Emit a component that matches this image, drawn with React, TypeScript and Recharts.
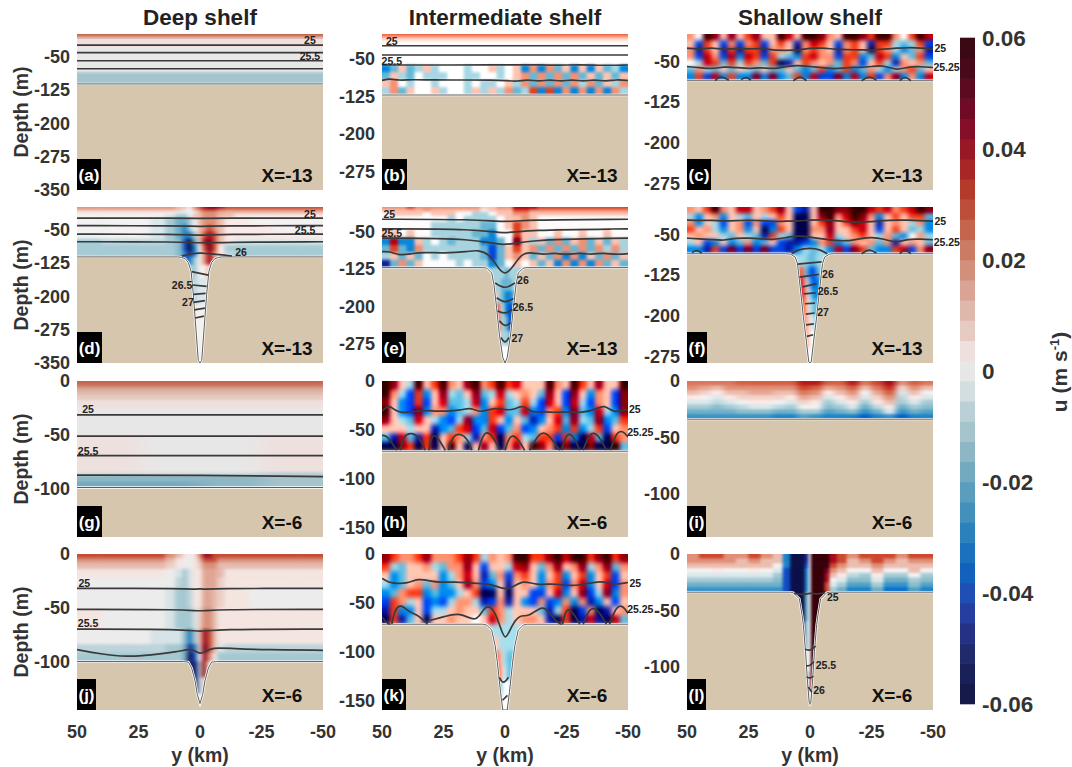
import React from 'react';
import { ComposedChart, ScatterChart, Scatter, Area, Line, XAxis, YAxis, ReferenceDot } from 'recharts';

// u in units of 0.01 m/s. Rows go top to bottom, columns y=50 to y=-50.
const palette = [
  '#161a4a', '#1a2158', '#212a6c', '#243184', '#263ea0', '#1f4fb4', '#1261bc', '#1a72bf', '#2b81bc', '#4390ba', '#5b9dbc',
  '#74aabf', '#8db7c4', '#a5c4cc', '#bbd0d6', '#d3dee1', '#e8e7e7', '#eee0dd', '#e6cbc3', '#dfb8ac', '#d9a494', '#d2907c',
  '#cb7a64', '#c4654d', '#bd4f3a', '#b53a2c', '#a92626', '#981826', '#850f28', '#700b26', '#5b0a20', '#480a1a', '#3a0914',
];

const xs30 = Array.from({ length: 31 }, (_, i) => 50 - (i * 100) / 30);
const xs20 = [50, 45, 40, 35, 30, 25, 20, 15, 10, 5, 0, -5, -10, -15, -20, -25, -30, -35, -40, -45, -50];
const xsCanyon = [50, 40, 30, 20, 14, 10, 7, 5, 3, 1, -1, -3, -5, -7, -10, -14, -20, -30, -40, -50];
const xsNarrow = [6, 4, 2.5, 1, 0, -1, -2.5, -4, -6];

// (a)
const aZs = [0, -4, -8, -12, -18, -30, -85, -90, -112];
const aVals = [[2.6], [1.9], [1.1], [0.5], [0.2], [0], [-0.6], [-1.1]];
const aSeabed = [[50, -112], [-50, -112]];
const aContours = [
  [[50, -25], [-50, -25]],
  [[50, -42], [-50, -42]],
  [[50, -60], [-50, -60]],
  [[50, -78], [-50, -78]],
];
const aLabels = [[-44.7, -13, '25'], [-44.7, -51, '25.5']];

// (b)
const bTopZs = [0, -4, -9, -14, -20, -62];
const bTopVals = [[2.5], [1.6], [0.7], [0.2], [0]];
const bZs = [-62, -77, -92, -107, -122];
const bVals = [
  [-3, -2, 1, -2, -1, 1, -1, 0, 0, 0, -1, 0, 0, 1, -1, 0, 1, -3, 2, -3, 2, -2, 1, -3, 1, -3, 1, -2, -1, -3],
  [-2, 1, -1, -2, 0, -1, -1, -1, 0, 0, -1, -1, 0, 0, -1, 0, 1, 2, -2, 2, -2, 2, -2, 2, -2, 1, -2, 1, -2, 1],
  [1, 2, 0, -1, 0, 0, -1, 0, 0, 0, -1, 0, -1, -1, 0, 1, -1, 2, -2, 2, -2, 2, -2, 2, -1, 2, -2, 1, -1, 2],
  [-1, 2, -2, 1, 0, 0, 1, -1, 0, 0, -1, 1, -1, 1, -1, 2, -2, -1, 3, -3, 3, -3, 2, -3, 2, -3, 2, -3, 2, -1],
];
const bSeabed = [[50, -122], [-50, -122]];
const bContours = [
  [[50, -23.5], [-50, -23.5]],
  [[50, -42], [-50, -42]],
  [[50, -62], [0, -62], [-10, -61], [-20, -63], [-30, -61], [-40, -63], [-50, -62]],
  [[50, -93], [47, -89], [43, -93], [38, -91], [30, -92], [15, -92], [5, -92], [0, -93], [-5, -95], [-9, -91], [-14, -95], [-18, -91], [-23, -95], [-27, -91], [-32, -95], [-36, -91], [-41, -95], [-45, -91], [-50, -93]],
];
const bLabels = [[46, -14, '25'], [46, -54, '25.5']];

// (c)
const cZs = [0, -12, -24, -36, -48, -60, -72, -86];
const cVals = [
  [2, 0, 6, 5, 1, 5, 1, 3, 5, 1, 1, 6, 4, 1, 6, 6, 5, 2, 1, 6, 6, 5, 3, 6, 6, 2, 0, 3, 6, 4],
  [1, -4, 3, 1, -4, 2, -4, 2, 3, -4, 1, 3, 1, -5, 2, 4, 3, 1, -4, 2, 3, 1, -5, 3, 3, -1, -2, -1, 3, -4],
  [2, -5, 3, 1, -5, 3, -5, 3, 3, -5, 2, 2, 1, -6, 2, 3, 2, 1, -5, 2, 3, 1, -6, 3, 2, -1, -3, -2, 2, -5],
  [2, -4, 4, 2, -4, 4, -3, 4, 3, -4, 3, -1, -2, -3, 3, 4, 2, 2, -4, 3, 3, -3, -2, 4, 3, -3, 1, -2, 3, -4],
  [0, -1, 4, 3, -2, 3, -1, 3, 2, -2, 3, -6, -5, 1, 3, 2, 1, 2, -2, 3, 2, -4, 1, 3, -1, -5, 2, 1, 2, -2],
  [-2, 2, -1, -2, 1, -2, 1, -1, -2, 1, -2, -2, 1, -2, -3, -2, 3, -3, -2, 3, -3, -2, 2, -1, -3, -1, 2, 3, -2, 1],
  [-3, 3, -4, 4, -3, 3, -3, -3, 5, -3, 5, -3, -2, 3, -3, 4, -4, -4, 5, -3, 4, -3, 3, -4, 2, 5, -3, 2, -3, 4],
];
const cSeabed = [[50, -86], [-50, -86]];
const cContours = [
  [[50, -26], [45, -28], [40, -25], [35, -29], [30, -26], [25, -28], [20, -26], [15, -30], [10, -30], [5, -30], [0, -26], [-5, -25.5], [-10, -28], [-15, -29], [-20, -29], [-25, -30], [-30, -28], [-35, -26], [-40, -25], [-45, -25.5], [-50, -28]],
  [[50, -60], [45, -61.6], [40, -64.6], [35, -60], [30, -61.6], [25, -64], [20, -61.6], [15, -64.6], [10, -60], [5, -57], [0, -60], [-5, -61.6], [-10, -64.6], [-15, -61.6], [-20, -61.6], [-25, -60], [-30, -57], [-35, -67.6], [-40, -60], [-45, -60], [-50, -61.6]],
  [[38.5, -86], [37, -78], [35, -80], [33, -85]],
  [[28, -84], [26, -78], [24, -85]],
  [[6.8, -86], [4, -76], [1.4, -86]],
  [[-21, -86], [-24, -76], [-27, -85]],
  [[-36.5, -86], [-38.5, -77], [-41, -86]],
];
const cLabels = [[-53, -27, '25'], [-55.5, -62, '25.25']];

// (d)
const dZs = [0, -5, -10, -16, -24, -40, -56, -72, -85, -100, -112];
const dVals = [
  [2, 2, 2, 2, 2, 1, 1, 0, 2, 3, 4, 5, 5, 4, 3, 3, 3, 3, 3],
  [1, 1, 1, 1, 1, 1, 0, 0, 1, 2, 3, 3, 3, 2, 2, 2, 2, 2, 2],
  [0.5, 0.5, 0.5, 0.5, 0.5, 0, -0.5, 0, 0.5, 1, 2, 2, 2, 1.5, 1, 1, 1, 1, 1],
  [0, 0, 0, 0, -0.5, -1, -1, 0, 1, 1, 2, 2, 2, 1, 1, 0.5, 0.5, 0.5, 0.5],
  [0, 0, 0, -0.5, -1, -2, -2, -1, 0, 1, 2, 2, 2, 1, 0.5, 0.5, 0, 0, 0],
  [0, 0, 0, -0.3, -1, -2, -3, -1, 0, 1, 2, 3, 2, 1, 0.5, 0.3, 0.3, 0, 0],
  [0, 0, 0, -0.3, -1, -2, -3, -3, -1, 1, 3, 4, 3, 1, 0.5, 0.3, 0.3, 0.3, 0.3],
  [-1, -0.7, -0.7, -0.7, -1, -1.5, -4, -6, -2, 1, 4, 5, 3, 1, 0.3, -0.3, -0.3, -0.3, -0.3],
  [-1, -1, -1, -1, -1, -1.5, -4, -6, -3, 0, 3, 5, 3, 0.5, -1, -1, -1, -1, -1],
  [-1, -1, -1, -1, -1, -1.5, -3, -5, -3, 0, 2, 4, 2, 0.5, -0.8, -1, -1, -1, -1],
];
const dCanyonXs = [10, 7, 5, 3, 1, -1, -3, -5, -7, -10];
const dCanyonZs = [-112, -130, -160, -220, -350];
const dCanyonVals = [
  [-2, -4, -3, -1, 0, 2, 4, 2, 0],
  [-0.5, -1, -1, -1, 0, 0.5, 1, 0.5, 0],
  [-0.5, -0.7, -1, -0.7, -0.3, -0.5, -0.5, -0.5, 0],
  [0, 0, 0.3, 0.3, 0, 0, 0, 0, 0],
];
const dSeabed = [[50, -112], [9, -112], [7.5, -113], [6, -116], [4.7, -125], [3.6, -145], [2.7, -196], [2, -248], [0.7, -344], [0, -350], [-0.7, -344], [-2, -248], [-2.7, -196], [-3.6, -145], [-4.7, -125], [-6, -116], [-7.5, -113], [-9, -112], [-50, -112]];
const dContours = [
  [[50, -25], [8, -25], [0, -26], [-8, -25], [-50, -25]],
  [[50, -42], [8, -42], [0, -44], [-8, -42], [-50, -42]],
  [[50, -61], [8, -61], [0, -64], [-8, -61], [-50, -61]],
  [[50, -78], [8, -78], [0, -81], [-8, -79], [-50, -78]],
  [[7.4, -110], [3, -104], [0, -103], [-6.8, -106], [-13, -110]],
  [[3.4, -145], [-3.4, -153]],
  [[3, -175], [-2.7, -178]],
  [[2.7, -196], [-2.3, -194]],
  [[2.7, -214], [-2, -210]],
  [[2.3, -231], [-2, -227]],
  [[2, -249], [-1.6, -245]],
];
const dLabels = [[-44.7, -16, '25'], [-42.7, -53, '25.5'], [-16.7, -102, '26'], [7.3, -176, '26.5'], [4.9, -214, '27']];

// (e)
const eZs = [0, -5, -10, -18, -30, -46, -62, -77, -92, -107, -122];
const eVals = [
  [2, 2, 2, 3, 2, 2, 2, 2, 2, 2, 2, 2, 1, 1, 2, 2, 4, 4, 4, 3, 3, 3, 3, 3, 3, 3, 3, 3, 3, 3],
  [1, 1, 1, 1, 1, 2, 1, 1, 1, 1, 1, 1, 0, 1, 1, 1, 3, 3, 2, 2, 2, 2, 2, 2, 2, 2, 2, 2, 2, 2],
  [0, 1, 1, 1, 1, 0, 1, 1, 1, 0, 0, -1, -1, 0, 1, 1, 2, 2, 1, 1, 1, 1, 1, 1, 1, 1, 1, 1, 1, 1],
  [0, 0, 0, 0, 0, 0, 0, 0, -1, 0, -1, -1, -1, -1, 0, 1, 1, 2, 1, 0, 0, 0, 0, 0, 0, 0, 0, 0, 0, 0],
  [0, 0, 0, 0, 0, 0, -1, -1, -1, -1, -1, -1, -2, -2, 0, 1, 3, 2, 1, 0, 0, 0, 0, 0, 0, 0, 0, 0, 0, 0],
  [1, 1, 0, 1, 0, 0, -1, -1, -1, -1, -1, -2, -2, -3, 0, 0, 3, 1, 1, 0, 0, 1, 0, 0, 1, 0, 0, 1, 0, 0],
  [-3, 4, -3, -3, 1, -1, 0, -1, -2, -1, -1, -1, -3, -3, -2, 0, 5, 1, -1, 1, -2, 2, -2, 1, 2, -2, 1, -2, 1, -1],
  [-2, 3, -2, -3, 2, -1, -1, -1, -1, -1, -1, -1, -2, -4, -2, 1, 3, 1, 2, -2, 2, -2, 2, -2, 2, -2, 2, -1, 2, -1],
  [-1, 1, -2, 1, -2, 0, -1, 0, -1, -1, -1, -1, -2, -4, -2, 1, 2, 1, -2, 1, -2, 2, -3, 2, -3, 1, -2, 2, -2, 1],
  [-5, -2, 2, -2, 1, 0, 0, 0, 0, -1, 0, -1, -1, -3, -2, 0, 1, 0, 1, -2, 1, -3, 2, -3, 2, -3, 2, -2, 1, -2],
];
const eCanyonXs = [7, 4.5, 3, 1.5, 0, -1.5, -3, -4.5, -7];
const eCanyonZs = [-122, -145, -170, -195, -220, -250, -280, -314];
const eCanyonVals = [
  [-1, -1, -1, -1, -2, -1, -1, -1],
  [-1, -1, -1, -2, -2, -2, -1, -1],
  [1, 1, -1, -2, -3, -3, -2, -1],
  [3, 4, 2, -1, -3, -4, -3, -2],
  [2, 4, 2, -1, -2, -4, -4, -3],
  [1, 2, 1, -1, -1, -2, -3, -2],
  [0, 0, 0, 0, 0, 0, 0, 0],
];
const eSeabed = [[50, -122], [9, -122], [7.4, -123], [5.4, -133], [4.5, -156], [3.4, -203], [2.3, -256], [0.9, -303], [0, -314], [-0.9, -303], [-2.3, -256], [-3.4, -203], [-4.5, -156], [-5.4, -133], [-7.4, -123], [-9, -122], [-50, -122]];
const eContours = [
  [[50, -24.7], [12, -24.7], [0, -30.7], [-8, -26], [-50, -24.7]],
  [[50, -44], [12, -44], [0, -54.7], [-8, -46], [-50, -44]],
  [[50, -62.7], [12, -63], [0, -80.7], [-7, -66], [-50, -62.7]],
  [[50, -90], [47, -89], [43, -98], [38, -94], [33, -91], [25, -93], [15, -90], [11, -86], [6, -96], [3, -122], [0, -138], [-3, -122], [-7, -92], [-11, -92], [-16, -96], [-20, -92], [-25, -97], [-30, -92], [-35, -96], [-40, -92], [-45, -96], [-50, -94]],
  [[4, -152.7], [0, -166], [-4, -152.7]],
  [[3.4, -182.7], [0, -194], [-3.4, -184]],
  [[3, -209], [0, -216], [-3, -206]],
  [[2.3, -229], [0, -242], [-2.3, -232.7]],
  [[1.6, -262.7], [0, -276], [-1.6, -262.7]],
];
const eLabels = [[47, -14, '25'], [46, -52, '25.5'], [-7.3, -148, '26'], [-7.3, -202, '26.5'], [-5, -264, '27']];

// (f)
const fZs = [0, -12, -24, -36, -48, -60, -72, -86];
const fVals = [
  [2, 1, 3, 6, 2, 1, 4, 4, 1, 2, 3, 5, 1, -4, -5, 1, 6, 6, 5, 5, 6, 6, 4, 3, 4, 2, 3, 4, 6, 5],
  [-1, -3, 1, 2, -3, 1, -1, -2, 1, -1, 1, 3, 1, -6, -6, 1, 5, 6, 2, 4, 6, 5, 2, -3, 1, 3, 1, 3, 3, -2],
  [2, -3, 1, -1, -4, 1, 2, -4, 2, -4, -4, 2, 1, -6, -6, 1, 3, 5, 1, 3, 5, 4, 1, -5, 1, 2, 1, -1, 2, -3],
  [3, 1, 2, -1, -3, 1, 2, -3, 1, -6, -3, 3, 1, -6, -6, 2, 2, 5, 1, 1, 3, 4, 1, -4, 1, 3, 1, -2, -1, -3],
  [1, 2, 1, 1, -1, -2, 1, -1, -2, -5, 3, -1, -2, -6, -6, 1, 1, 4, -1, 1, 2, 3, 1, -1, 2, -2, -3, 0, 2, -1],
  [-1, 1, -4, -3, 1, -3, -2, 2, -3, -2, 1, -4, -5, -5, -4, -3, 2, 3, -3, -2, 2, 1, 2, -2, 2, -5, 1, 2, 1, -2],
  [-3, -3, -5, 3, -4, 5, -4, 5, -4, 5, -4, -4, -5, -3, -1, -2, -1, -3, 4, -4, 5, 3, -2, -3, -3, 3, 4, -4, 2, 5],
];
const fCanyonZs = [-86, -110, -130, -150, -170, -200, -230, -260, -290];
const fCanyonVals = [
  [-1, -1, -1, -2, -2, -2, -1, -1],
  [2, 3, -1, -3, -4, -4, -2, -1],
  [3, 4, 1, -1, -3, -4, -3, -2],
  [3, 4, 2, 0, -2, -3, -3, -2],
  [3, 3, 2, 0, -1, -2, -2, -2],
  [2, 2, 2, 1, 0, -1, -1, -1],
  [2, 2, 2, 1, 0, 0, 0, 0],
  [1, 1, 1, 0, 0, 0, 0, 0],
];
const fSeabed = [[50, -86], [10, -86], [8, -86.5], [6, -92], [5.1, -104], [4, -147], [2.7, -202], [1.4, -250], [0.5, -285], [0, -287], [-0.5, -285], [-1.4, -250], [-2.7, -202], [-4, -147], [-5.1, -104], [-6, -92], [-8, -86.5], [-10, -86], [-50, -86]];
const fContours = [
  [[50, -24], [45, -25], [40, -24], [35, -26], [30, -25], [25, -24], [20, -25], [15, -27], [10, -26], [5, -26], [0, -24], [-5, -23.5], [-10, -25], [-15, -27], [-20, -28], [-25, -27], [-30, -25], [-35, -24], [-40, -24], [-45, -25], [-50, -26]],
  [[50, -57.3], [45, -58.5], [40, -59.7], [35, -62], [30, -56.7], [25, -57.3], [20, -58.5], [15, -60.3], [10, -56.7], [5, -52.5], [0, -55.5], [-5, -58.5], [-10, -61.6], [-15, -62.8], [-20, -58.5], [-25, -55.5], [-30, -58.5], [-35, -66.4], [-40, -58.5], [-45, -59], [-50, -60.3]],
  [[48, -84], [46, -78], [44, -85]],
  [[7.4, -86], [5, -78], [0, -75], [-4, -78], [-7, -86]],
  [[-21, -86], [-24, -76], [-27, -85]],
  [[-36.5, -86], [-38.5, -77], [-41, -86]],
  [[5.1, -105], [-4.7, -101]],
  [[4.3, -129], [-3.6, -124]],
  [[3, -147], [-2.7, -141]],
  [[2.4, -160], [-2.3, -158]],
  [[2, -178], [-2, -177]],
  [[1.7, -197], [-1.9, -195]],
  [[1.6, -217], [-1.6, -215]],
  [[1.3, -238], [-1.3, -235]],
];
const fLabels = [[-53, -26, '25'], [-55.6, -64, '25.25'], [-7.3, -124, '26'], [-7.3, -155, '26.5'], [-5.3, -194, '27']];

// (g)
const gXs = [50, 25, 0, -25, -50];
const gZs = [0, -3, -6, -9, -13, -18, -25, -50, -85, -88, -94, -100];
const gVals = [
  [2.6, 2.6, 2.8, 2.6],
  [2.2, 2.2, 2.2, 2.2],
  [1.6, 1.6, 1.6, 1.6],
  [1, 1, 1, 1],
  [0.7, 0.7, 0.7, 0.7],
  [0.4, 0.4, 0.4, 0.4],
  [0, 0, 0, 0],
  [0.3, 0.1, 0.1, 0.3],
  [-0.3, -0.3, -0.5, -0.8],
  [-1.6, -1.6, -1.4, -1.2],
  [-1.8, -1.8, -1.5, -1.2],
];
const gSeabed = [[50, -99], [-50, -99]];
const gContours = [
  [[50, -31.5], [-50, -31.5]],
  [[50, -51.2], [-50, -51.2]],
  [[50, -69.4], [-50, -69.4]],
  [[50, -87.4], [0, -87.6], [-50, -88.8]],
];
const gLabels = [[45.5, -26, '25'], [45.5, -65, '25.5']];

// (h)
const hZs = [0, -9, -18, -27, -36, -45, -54, -63, -72];
const hVals = [
  [6, 5, 1, -1, 6, 1, 3, 6, 2, 1, 5, 6, 2, 3, 6, 3, 4, 1, 1, 1, 6, 2, 1, 6, 3, 1, 5, 1, 1, 6],
  [6, 2, -1, -4, 3, -3, 1, 5, -1, -2, 1, 5, -2, -1, 4, -1, 1, 2, 1, -2, 5, 1, -4, 5, 1, -3, 2, 1, -4, 5],
  [5, 1, -3, -4, 3, -4, 1, 4, -2, -2, -1, 4, -3, 1, 3, -2, -1, 3, -1, -4, 4, 1, -4, 4, -1, -4, 2, 1, -4, 5],
  [6, 1, -3, -4, 5, -3, 2, 2, -3, -2, -1, 2, -3, 3, 4, -2, -2, 4, -3, -4, 2, 3, -3, 5, -2, -3, 4, -1, -3, 5],
  [5, 1, -1, -2, 4, 1, -1, -3, -4, -1, 5, -3, -3, 3, 1, -3, 1, -2, -5, -3, 1, 4, -2, 5, -1, -2, 5, -3, -2, 3],
  [1, 1, 1, -1, 1, 1, -5, -3, -2, 3, 4, -4, -2, 4, -4, -2, 2, -4, -3, 1, 2, 3, -3, 3, -3, -1, 3, -4, 1, 2],
  [-2, -5, 4, -2, -5, 3, -6, 1, 3, 2, -1, -5, 2, 3, -6, 2, 3, -1, -2, 3, 3, -4, 3, -3, -6, 4, -2, -6, 3, 2],
  [-6, -6, 5, 3, -6, 3, -6, 1, 6, 1, -6, 1, 5, 1, -6, 2, 5, 1, 6, 5, 2, -6, 5, -6, -6, 5, -6, -6, 6, -2],
];
const hSeabed = [[50, -72], [-50, -72]];
const hContours = [
  [[50, -31], [47.3, -24], [44.6, -30.6], [41.9, -32.6], [39.2, -31.6], [35, -31], [31, -30], [28.4, -31], [23.7, -31], [18.2, -30], [13.5, -27], [10.1, -33], [4.7, -27], [-0.7, -30], [-4, -29.2], [-7.4, -24], [-10.8, -33], [-15.5, -31], [-20.9, -32.6], [-26.3, -31], [-31, -33], [-37, -29], [-40.5, -24], [-43.9, -33], [-50, -29]],
  [[50, -55.7], [48, -56], [45.3, -66], [44, -71]],
  [[42.6, -71], [41.2, -55], [37.8, -53], [35, -57], [32.4, -71]],
  [[31, -71], [29.7, -55], [27.7, -56], [24.3, -71]],
  [[23, -71], [21, -55], [18.2, -54], [15.5, -58], [13.5, -71]],
  [[10.8, -71], [8.8, -53], [6, -52], [2, -71]],
  [[0, -71], [-2, -55], [-4.7, -57], [-8, -71]],
  [[-10, -71], [-14, -53], [-16.9, -52], [-22.3, -71]],
  [[-23, -71], [-25, -53], [-27.7, -55], [-30.4, -71]],
  [[-31.8, -71], [-34.5, -52], [-37.8, -54], [-41.2, -71]],
  [[-42.8, -71], [-45.3, -52], [-48, -51], [-50, -57.4]],
];
const hLabels = [[-52.8, -29, '25'], [-55, -53, '25.25']];

// (i)
const iZs = [0, -4.25, -8.5, -12.75, -17, -21.25, -25.5, -29.75, -34];
const iVals = [
  [2.4, 2.4, 2.3, 2.4, 2.5, 2.5, 2.5, 2.5, 2.5, 3.6, 3.6, 2.6, 2.8, 3.6, 2.3, 3, 4.2, 2, 2.8, 2.3],
  [1.7, 1.6, 1.3, 1.7, 1.9, 2, 2, 1.9, 1.9, 3, 2.8, 1.5, 2, 2.7, 1, 2.4, 3.3, 0.6, 2, 1],
  [1, 0.8, 0.3, 1, 1.3, 1.5, 1.5, 1.3, 1.2, 2.2, 2, 0.4, 1.1, 1.9, 0.1, 1.6, 2.6, -0.2, 1.2, 0.1],
  [0.2, 0, -0.3, 0.2, 0.7, 0.9, 0.9, 0.7, 0.5, 1.4, 1.3, -0.4, 0.2, 1.1, -0.5, 0.9, 1.9, -0.7, 0.5, -0.5],
  [-0.4, -0.5, -0.8, -0.4, 0, 0.2, 0.2, 0, -0.3, 0.6, 0.5, -1, -0.5, 0.4, -1.1, 0.2, 1.2, -1.2, -0.2, -1],
  [-1, -1.1, -1.4, -1, -0.6, -0.4, -0.4, -0.7, -1, 0, 0, -1.6, -1.1, -0.2, -1.8, -0.6, 0.5, -2, -1, -1.6],
  [-1.7, -1.7, -2, -1.7, -1.4, -1.4, -1.4, -1.7, -1.9, -1, -1, -2.2, -1.9, -1.4, -2.6, -1.7, -0.4, -2.7, -1.8, -2.2],
  [-2.6, -2.6, -2.6, -2.6, -2.6, -2.6, -2.6, -2.9, -3.1, -2.4, -2.6, -3.1, -2.9, -3.1, -3.6, -3.1, -2.6, -3.9, -2.9, -2.9],
];
const iSeabed = [[50, -34], [-50, -34]];

// (j)
const jZs = [0, -4, -8, -14, -22, -32, -50, -70, -84, -92, -100];
const jVals = [
  [3, 3, 3, 3, 2, 1, 0.5, 0, 0.5, 2, 4, 4, 3, 3, 3, 3, 3, 3, 3],
  [2, 2, 2, 2, 1, 0.5, 0, 0, 0.3, 1, 3, 3, 3, 2, 2, 2, 2, 2, 2],
  [1, 1, 1, 1, 0.7, 0.3, 0, 0, 0.3, 0.7, 2, 2, 2, 1, 1, 1, 1, 1, 1],
  [0.3, 0.3, 0.3, 0.3, 0, -0.5, -1, -0.3, 0.3, 0.5, 1.5, 1.5, 1.5, 1, 0.5, 0.5, 0.5, 0.5, 0.5],
  [0, 0, 0, 0, 0, -0.8, -1, -0.5, 0.3, 0.5, 1.5, 1.5, 1.5, 0.7, 0.3, 0.2, 0.2, 0.2, 0.2],
  [0, 0, 0, 0, -0.5, -1, -1.2, -0.8, 0.2, 0.5, 1.5, 1.5, 1.2, 0.7, 0.2, 0.2, 0.1, 0.1, 0.1],
  [0.2, 0.1, 0.1, 0, -0.3, -1, -1.3, -1.3, -0.3, 0.7, 2, 2, 1.3, 0.5, 0.3, 0.3, 0.3, 0.3, 0.3],
  [0, 0, 0, -0.3, -0.3, -0.5, -1.5, -3, -1, 1, 4, 3, 1, 0.3, 0.3, 0.2, 0.2, 0.2, 0.2],
  [-0.8, -0.8, -0.8, -0.8, -1, -1, -2, -5, -3, 1, 5, 3, 1, -0.3, -0.8, -0.8, -0.8, -0.8, -0.8],
  [-1, -1, -1, -1, -1, -1, -2, -6, -4, 0, 4, 2, 0.5, -1, -1, -1, -1, -1, -1],
];
const jCanyonXs = [6, 3, 2, 1, 0, -1, -2, -3, -6];
const jCanyonZs = [-100, -115, -130, -145];
const jCanyonVals = [
  [-5, -6, -5, -2, 1, 5, 3, 0],
  [-3, -5, -5, -2, 0, 1, 1, 0],
  [0, 0, 0, 0, 0, 0, 0, 0],
];
const jSeabed = [[50, -100], [6.8, -100], [4.7, -100.5], [3.4, -106], [2, -118], [1.1, -130.5], [0, -139], [-1.1, -130.5], [-2, -118], [-3.4, -106], [-4.7, -100.5], [-6.8, -100], [-50, -100]];
const jContours = [
  [[50, -32], [5, -32], [1.4, -33], [0, -32], [-1.4, -33], [-4, -32], [-50, -32]],
  [[50, -51.5], [6, -51.5], [0, -53.4], [-6, -51.5], [-50, -51.5]],
  [[50, -69.8], [6, -69.8], [0, -72.5], [-6, -70], [-50, -69.8]],
  [[50, -88.9], [40.5, -92.9], [29.7, -95.7], [20, -94], [9.5, -91], [4, -88], [2, -90], [0, -93], [-2, -91], [-4.7, -86.7], [-13.5, -88], [-27, -89], [-50, -89.5]],
];
const jLabels = [[47, -27, '25'], [45.5, -64, '25.5']];

// (k)
const kZs = [0, -9, -18, -27, -36, -45, -54, -63, -72];
const kVals = [
  [5, 3, 2, 2, 3, 5, 2, 2, 2, 3, 5, 3, -1, 2, 1, 2, 6, 6, 3, 3, 5, 6, 4, 6, 6, 3, 5, 6, 3, 5],
  [3, -1, -2, 1, 1, 2, -1, -2, 2, 2, 5, 1, -4, 1, 1, -1, 4, 5, 1, -2, 2, 5, 1, 2, 5, -1, 2, 5, -2, 2],
  [1, -3, -2, 1, 1, 1, 1, -3, -1, 2, 4, 1, -5, -2, 2, -4, 2, 3, 1, -3, 1, 3, -3, 1, 3, -3, 1, 3, -4, 1],
  [-1, -3, -2, 1, 2, -2, 2, -3, -2, 1, 5, 2, -4, -3, 1, -5, 1, 2, 1, -3, 2, 3, -4, 2, 4, -3, 1, 4, -4, 2],
  [-3, -2, 2, 3, 3, -3, -2, -3, -3, -1, 1, 3, -6, -6, 1, -6, 1, 1, -4, -4, 1, 4, -3, 1, 5, -4, -1, 5, -3, 2],
  [-4, 3, 2, -1, 1, -4, -3, -4, -1, 2, 2, -1, -5, -4, 2, -5, 1, -3, -4, 2, -4, -3, 2, -3, 2, -5, -3, 1, -4, 1],
  [-5, 3, -3, -3, 1, -4, -1, -1, 1, 2, 1, 1, -2, 3, 2, -1, 1, 1, 1, -2, -5, -1, 3, -6, -4, 2, -6, -5, 1, 2],
  [-6, 3, -5, -2, 1, -6, 1, 1, 2, 1, 1, 0, 1, 4, 2, -1, 1, 2, 2, 1, -5, -6, 3, -6, -5, 4, -5, -6, 4, -2],
];
const kCanyonZs = [-72, -85, -100, -115, -130, -145, -160];
const kCanyonVals = [
  [-1, -1, -1, -1, -1, -1, -1, -1],
  [1, 1, -1, -1, -1, -1, -1, -1],
  [2, 3, 1, -1, -1, -2, -2, -1],
  [2, 3, 2, 0, -1, -2, -2, -1],
  [1, -1, -2, 0, 0, 0, -1, -1],
  [1, 1, 1, 0, 0, 0, 0, 0],
];
const kSeabed = [[50, -72], [9, -72], [7.4, -73], [5.4, -78], [4, -94], [3.1, -111], [1.8, -142], [0.9, -160], [0, -160], [-0.9, -160], [-1.8, -142], [-3.1, -111], [-4, -94], [-5.4, -78], [-7.4, -73], [-9, -72], [-50, -72]];
const kContours = [
  [[50, -25], [47.3, -29.2], [43.9, -30.2], [39.9, -30.2], [35.1, -25], [30.4, -27.8], [26.4, -29.2], [20.3, -28.5], [12.8, -30.2], [6, -30.2], [0, -37], [-3.4, -33.7], [-7.4, -26.8], [-12.8, -32], [-19.6, -30.2], [-23.6, -32], [-30.4, -32.6], [-39.1, -26.8], [-44.5, -32], [-50, -29.2]],
  [[50, -64.6], [48, -71], [46.6, -72]],
  [[46, -72], [44.6, -55], [41.9, -52], [39.2, -59.4], [35.8, -62], [33.1, -68], [31.5, -72]],
  [[30.4, -68], [25, -64.6], [18.2, -59.4], [11.5, -71], [8.8, -55], [5.4, -52], [2, -73], [0, -91], [-2.7, -73], [-6, -62], [-9.5, -64.6], [-14, -55], [-16.9, -55], [-20.9, -70.4], [-23, -72]],
  [[-23.4, -72], [-25, -54], [-27.7, -60], [-30.4, -72]],
  [[-31.8, -72], [-34.5, -54], [-37.8, -57], [-41.2, -72]],
  [[-42.5, -72], [-45.3, -53], [-48, -53], [-50, -61]],
  [[2.3, -126.5], [0.7, -134], [-1.4, -126.5]],
  [[1, -150], [-1, -145]],
];
const kLabels = [[-53, -30, '25'], [-55, -57, '25.25']];

// (l)
const lXs = [50, 45, 40, 35, 30, 25, 20, 15, 11, 8, 6, 4, 2, 0.5, -0.5, -2, -4, -6, -8, -11, -15, -20, -25, -30, -35, -40, -45, -50];
const lZs = [0, -4.25, -8.5, -12.75, -17, -21.25, -25.5, -29.75, -34];
const lVals = [
  [2, 3, 3, 2, 2, 3, 2, 1, -3, -6, -6, -6, -5, 0, 6, 6, 6, 6, 4, 3, 2, 3, 3, 3, 2, 3, 3],
  [2, 2, 2, 2, 1, 2, 1, 1, -3, -6, -6, -6, -5, 0, 6, 6, 6, 6, 4, 3, 1, 2, 3, 2, 1, 2, 2],
  [1, 1, 1, 1, 1, 1, 1, 0, -3, -6, -6, -6, -4, 0, 6, 6, 6, 6, 3, 2, 1, 1, 2, 1, 1, 1, 1],
  [0, 0, 0.3, 0, 0, 0.3, 0, -0.3, -4, -6, -6, -6, -3, 0, 6, 6, 6, 5, 2, 1, 0, 0, 1, 0, 0, 1, 0],
  [-0.5, -0.5, -0.5, -0.5, -0.5, -0.5, -0.5, -1, -4, -6, -6, -6, -3, 0, 6, 6, 6, 4, 1, 0.3, -0.7, -1, 0.3, -1, -1, 0, -1],
  [-1, -1, -1, -1, -1, -1, -1, -1.5, -4, -6, -6, -6, -3, 0, 6, 6, 6, 4, 0, -0.5, -1.5, -1.5, -0.3, -2, -2, -1, -1.5],
  [-1.7, -1.7, -1.7, -1.7, -1.7, -1.7, -1.7, -2, -4, -6, -6, -6, -3, 0, 6, 6, 6, 3, -0.5, -1, -2.2, -2.2, -1, -2.7, -2.7, -1.6, -2.2],
  [-2.5, -2.5, -2.5, -2.5, -2.5, -2.5, -2.5, -2.5, -4, -6, -6, -6, -3, 0, 6, 6, 6, 3, -1, -1.8, -3, -3, -1.8, -3.5, -3.5, -2.4, -3],
];
const lCanyonXs = [9, 6, 4, 2, 0.5, -0.5, -2, -4, -7];
const lCanyonZs = [-34, -60, -85, -105, -120, -135];
const lCanyonVals = [
  [-6, -6, -6, -2, 0, 6, 6, 6],
  [-6, -6, -5, -1, 0, 6, 6, 5],
  [-6, -6, -4, 0, 0, 6, 6, 4],
  [-4, -3, -3, -1, 1, 5, 5, 3],
  [-3, -3, -3, -2, 0, 2, 3, 2],
];
const lSeabed = [[50, -34], [8, -34], [6.8, -34.5], [4.3, -40], [3.2, -55], [2.7, -63], [1.8, -87], [1.1, -111], [0.3, -133], [0, -134], [-0.3, -133], [-1.1, -111], [-1.8, -87], [-2.7, -63], [-3.2, -55], [-4.3, -40], [-6.8, -34.5], [-8, -34], [-50, -34]];
const lContours = [
  [[6.5, -35], [2.7, -36.6], [0, -34.5], [-2.7, -36], [-6, -34.5]],
  [[2, -84.8], [0, -86.6], [-2.3, -82]],
  [[1.6, -99.7], [0, -99.7], [-1.6, -96]],
  [[1.4, -109.6], [0, -111], [-1.4, -108.9]],
  [[0.7, -118.5], [-0.7, -123]],
];
const lLabels = [[-9.3, -39, '25'], [-6.5, -99, '25.5'], [-3.7, -121, '26']];

const titles = ['Deep shelf', 'Intermediate shelf', 'Shallow shelf'];
const colorTicks = [-0.06, -0.04, -0.02, 0, 0.02, 0.04, 0.06];
const yKmTicks = [50, 25, 0, -25, -50];

const W = 246;
const LEFTS = [77, 382, 687];
const TOPS = [34, 207, 381, 554];
const H = 156;
const INK = '#333333';
const FONT = '"Liberation Sans", Arial, sans-serif';

const panels = [
  { tag: '(a)', c: 0, r: 0, depth: 350, ticks: [-50, -125, -200, -275, -350], seabed: aSeabed, contours: aContours, labels: aLabels, run: 'X=-13', box: 24, blur: [0, 0.6], punch: 1, grids: [{ xs: [50, -50], zs: aZs, vals: aVals }] },
  { tag: '(b)', c: 1, r: 0, depth: 312, ticks: [-50, -125, -200, -275], seabed: bSeabed, contours: bContours, labels: bLabels, run: 'X=-13', box: 25, blur: [1.6, 1.8], punch: 1.25, grids: [{ xs: [50, -50], zs: bTopZs, vals: bTopVals }, { xs: xs30, zs: bZs, vals: bVals }] },
  { tag: '(c)', c: 2, r: 0, depth: 287, ticks: [-50, -125, -200, -275], seabed: cSeabed, contours: cContours, labels: cLabels, run: 'X=-13', box: 24, blur: [2.4, 2], punch: 1.3, grids: [{ xs: xs30, zs: cZs, vals: cVals }] },
  { tag: '(d)', c: 0, r: 1, depth: 350, ticks: [-50, -125, -200, -275, -350], seabed: dSeabed, contours: dContours, labels: dLabels, run: 'X=-13', box: 25, blur: [2, 1.8], punch: 1.1, grids: [{ xs: xsCanyon, zs: dZs, vals: dVals }, { xs: dCanyonXs, zs: dCanyonZs, vals: dCanyonVals }] },
  { tag: '(e)', c: 1, r: 1, depth: 314, ticks: [-50, -125, -200, -275], seabed: eSeabed, contours: eContours, labels: eLabels, run: 'X=-13', box: 24, blur: [1.7, 1.8], punch: 1.2, grids: [{ xs: xs30, zs: eZs, vals: eVals }, { xs: eCanyonXs, zs: eCanyonZs, vals: eCanyonVals }] },
  { tag: '(f)', c: 2, r: 1, depth: 287, ticks: [-50, -125, -200, -275], seabed: fSeabed, contours: fContours, labels: fLabels, run: 'X=-13', box: 20, blur: [2.4, 2], punch: 1.3, grids: [{ xs: xs30, zs: fZs, vals: fVals }, { xs: xsNarrow, zs: fCanyonZs, vals: fCanyonVals }] },
  { tag: '(g)', c: 0, r: 2, depth: 145, ticks: [0, -50, -100], seabed: gSeabed, contours: gContours, labels: gLabels, run: 'X=-6', box: 25, blur: [12, 0.8], punch: 1, grids: [{ xs: gXs, zs: gZs, vals: gVals }] },
  { tag: '(h)', c: 1, r: 2, depth: 160, ticks: [0, -50, -100, -150], seabed: hSeabed, contours: hContours, labels: hLabels, run: 'X=-6', box: 25, blur: [2.4, 2.4], punch: 1.4, grids: [{ xs: xs30, zs: hZs, vals: hVals }] },
  { tag: '(i)', c: 2, r: 2, depth: 139, ticks: [0, -50, -100], seabed: iSeabed, contours: [], labels: [], run: 'X=-6', box: 19, blur: [3.2, 1.2], punch: 1.1, grids: [{ xs: xs20, zs: iZs, vals: iVals }] },
  { tag: '(j)', c: 0, r: 3, depth: 145, ticks: [0, -50, -100], seabed: jSeabed, contours: jContours, labels: jLabels, run: 'X=-6', box: 19, blur: [2.2, 1.6], punch: 1.05, grids: [{ xs: xsCanyon, zs: jZs, vals: jVals }, { xs: jCanyonXs, zs: jCanyonZs, vals: jCanyonVals }] },
  { tag: '(k)', c: 1, r: 3, depth: 160, ticks: [0, -50, -100, -150], seabed: kSeabed, contours: kContours, labels: kLabels, run: 'X=-6', box: 24, blur: [2.4, 2.4], punch: 1.35, grids: [{ xs: xs30, zs: kZs, vals: kVals }, { xs: xsNarrow, zs: kCanyonZs, vals: kCanyonVals }] },
  { tag: '(l)', c: 2, r: 3, depth: 139, ticks: [0, -50, -100], seabed: lSeabed, contours: lContours, labels: lLabels, run: 'X=-6', box: 19, blur: [1.8, 1.2], punch: 1.1, grids: [{ xs: lXs, zs: lZs, vals: lVals }, { xs: lCanyonXs, zs: lCanyonZs, vals: lCanyonVals }] },
];

const colorOf = (v: number) => {
  const idx = Math.round(((v + 6) / 12) * (palette.length - 1));
  return palette[Math.max(0, Math.min(palette.length - 1, idx))];
};

// one record per grid cell, outer edges stretched by the padding so the blur does not fade at the frame
function cellsOf(grids: any[], padX: number, padZ: number) {
  const cells: any[] = [];
  grids.forEach((g) => {
    g.vals.forEach((row: number[], i: number) => {
      row.forEach((v, j) => {
        const x1 = g.xs[j] === 50 ? 50 + padX : g.xs[j];
        const x2 = g.xs[j + 1] === -50 ? -50 - padX : g.xs[j + 1];
        const z1 = g.zs[i] === 0 ? padZ : g.zs[i];
        const z2 = g.zs[i + 1];
        cells.push({ x: (x1 + x2) / 2, z: (z1 + z2) / 2, w: x1 - x2, h: z1 - z2, v });
      });
    });
  });
  return cells;
}

function HeatLayer({ p }: { p: any }) {
  const pad = 24;
  const kmPerPx = 100 / W;
  const mPerPx = p.depth / H;
  const cells = cellsOf(p.grids, pad * kmPerPx, pad * mPerPx);
  const Cell = (s: any) => {
    const w = s.payload.w / kmPerPx + 0.6;
    const h = s.payload.h / mPerPx + 0.6;
    return <rect x={s.cx - w / 2} y={s.cy - h / 2} width={w} height={h} fill={colorOf(s.payload.v)} />;
  };
  const id = `soft-${p.c}-${p.r}`;
  return (
    <div style={{ position: 'absolute', left: LEFTS[p.c], top: TOPS[p.r], width: W, height: H, overflow: 'hidden', background: palette[16] }}>
      <svg width={0} height={0} style={{ position: 'absolute' }}>
        <filter id={id} colorInterpolationFilters="sRGB">
          <feGaussianBlur stdDeviation={`${p.blur[0]} ${p.blur[1]}`} />
        </filter>
      </svg>
      <div style={{ position: 'absolute', left: -pad, top: -pad, filter: `url(#${id}) contrast(${p.punch}) saturate(${p.punch})` }}>
        <ScatterChart width={W + 2 * pad} height={H + 2 * pad} margin={{ top: 0, right: 0, bottom: 0, left: 0 }}>
          <XAxis type="number" dataKey="x" hide reversed allowDataOverflow domain={[-50 - pad * kmPerPx, 50 + pad * kmPerPx]} />
          <YAxis type="number" dataKey="z" hide allowDataOverflow domain={[-p.depth - pad * mPerPx, pad * mPerPx]} />
          <Scatter data={cells} shape={Cell} isAnimationActive={false} />
        </ScatterChart>
      </div>
    </div>
  );
}

const toPoints = (pairs: number[][]) => pairs.map(([x, z]) => ({ x, z }));

function Overlay({ p }: { p: any }) {
  const bottomRow = p.r === 3;
  const left = 76;
  const right = 60;
  const top = 12;
  const axisH = 57;
  const bottom = 14;
  const sand = p.seabed.map(([x, z]: number[]) => ({ x, z, band: [z, -p.depth] }));
  const tick = { fill: INK, fontSize: 18, fontWeight: 'bold', fontFamily: FONT };
  return (
    <div style={{ position: 'absolute', left: LEFTS[p.c] - left, top: TOPS[p.r] - top }}>
      <ComposedChart
        width={W + left + right}
        height={H + top + (bottomRow ? axisH : bottom)}
        margin={{ top, right, bottom: bottomRow ? 0 : bottom, left: 0 }}
      >
        <XAxis
          type="number"
          dataKey="x"
          reversed
          allowDataOverflow
          domain={[-50, 50]}
          ticks={yKmTicks}
          interval={0}
          hide={!bottomRow}
          height={axisH}
          axisLine={false}
          tickLine={false}
          tick={tick}
          tickMargin={9}
          label={{ value: 'y (km)', position: 'insideBottom', offset: 5, fill: INK, fontSize: 19.5, fontWeight: 'bold', fontFamily: FONT }}
        />
        <YAxis
          type="number"
          allowDataOverflow
          domain={[-p.depth, 0]}
          ticks={p.ticks}
          interval={0}
          width={left}
          axisLine={false}
          tickLine={false}
          tick={tick}
          tickMargin={1}
          label={
            p.c === 0
              ? { value: 'Depth (m)', angle: -90, position: 'insideLeft', offset: 20, fill: INK, fontSize: 19.5, fontWeight: 'bold', fontFamily: FONT, style: { textAnchor: 'middle' } }
              : undefined
          }
        />
        <Line data={sand} dataKey="z" stroke="#ffffff" strokeWidth={2.4} dot={false} isAnimationActive={false} legendType="none" />
        <Area data={sand} dataKey="band" fill="#d6c6ae" fillOpacity={1} stroke="none" isAnimationActive={false} legendType="none" />
        <Line data={sand} dataKey="z" stroke="#5c5c5c" strokeWidth={1} dot={false} isAnimationActive={false} legendType="none" />
        {p.contours.map((c: number[][], i: number) => (
          <Line key={i} type="basis" data={toPoints(c)} dataKey="z" stroke="#3a3a3a" strokeWidth={1.7} dot={false} isAnimationActive={false} legendType="none" />
        ))}
        {p.labels.map(([x, z, text]: any[], i: number) => (
          <ReferenceDot
            key={i}
            x={x}
            y={z}
            r={0.01}
            ifOverflow="visible"
            fill="none"
            stroke="none"
            label={{ value: text, position: 'center', fontSize: 10.5, fontWeight: 'bold', fill: '#222222', fontFamily: FONT }}
          />
        ))}
      </ComposedChart>
    </div>
  );
}

function Panel({ p }: { p: any }) {
  const x = LEFTS[p.c];
  const y = TOPS[p.r];
  return (
    <>
      <HeatLayer p={p} />
      <Overlay p={p} />
      <div style={{ position: 'absolute', left: x, top: y + H - 31, width: p.box, height: 31, background: '#000', color: '#fff', fontSize: 17, fontWeight: 'bold', lineHeight: '34px', textAlign: 'center' }}>
        {p.tag}
      </div>
      <div style={{ position: 'absolute', left: x + (p.run === 'X=-6' ? 155 : 160), width: 100, top: y + H - 26, textAlign: 'center', fontSize: 19, fontWeight: 'bold', color: '#111', lineHeight: '24px' }}>
        {p.run}
      </div>
    </>
  );
}

function ColorBar() {
  const barH = 666;
  const step = 0.12 / palette.length;
  const bands = palette.map((fill, i) => ({ x: 0.5, z: -0.06 + (i + 0.5) * step, fill }));
  const Band = (s: any) => <rect x={s.cx - 7.5} y={s.cy - barH / palette.length / 2 - 0.3} width={15} height={barH / palette.length + 0.6} fill={s.payload.fill} />;
  return (
    <div style={{ position: 'absolute', left: 960, top: 22 }}>
      <ScatterChart width={90} height={barH + 32} margin={{ top: 16, right: 0, bottom: 16, left: 0 }}>
        <XAxis type="number" dataKey="x" hide domain={[0, 1]} />
        <YAxis
          type="number"
          dataKey="z"
          orientation="right"
          width={75}
          domain={[-0.06, 0.06]}
          ticks={colorTicks}
          interval={0}
          axisLine={false}
          tickLine={false}
          tickMargin={1}
          tickFormatter={(v: number) => (v === 0 ? '0' : v.toFixed(2))}
          tick={{ fill: INK, fontSize: 22.5, fontWeight: 'bold', fontFamily: FONT }}
        />
        <Scatter data={bands} shape={Band} isAnimationActive={false} />
      </ScatterChart>
    </div>
  );
}

export default function App() {
  return (
    <div style={{ position: 'absolute', left: 0, top: 0, width: 1072, height: 767, background: '#fff', fontFamily: FONT, overflow: 'hidden' }}>
      {titles.map((t, i) => (
        <div key={t} style={{ position: 'absolute', left: LEFTS[i] - 20, width: W + 40, top: 4, textAlign: 'center', fontSize: 22.5, fontWeight: 'bold', color: '#222', lineHeight: '28px' }}>
          {t}
        </div>
      ))}
      {panels.map((p) => (
        <Panel key={p.tag} p={p} />
      ))}
      <ColorBar />
      <div style={{ position: 'absolute', left: 1060 - 80, width: 160, top: 372 - 14, lineHeight: '28px', textAlign: 'center', transform: 'rotate(-90deg)', fontSize: 21, fontWeight: 'bold', color: INK }}>
        u (m s<sup style={{ fontSize: 13, lineHeight: 0 }}>-1</sup>)
      </div>
    </div>
  );
}
